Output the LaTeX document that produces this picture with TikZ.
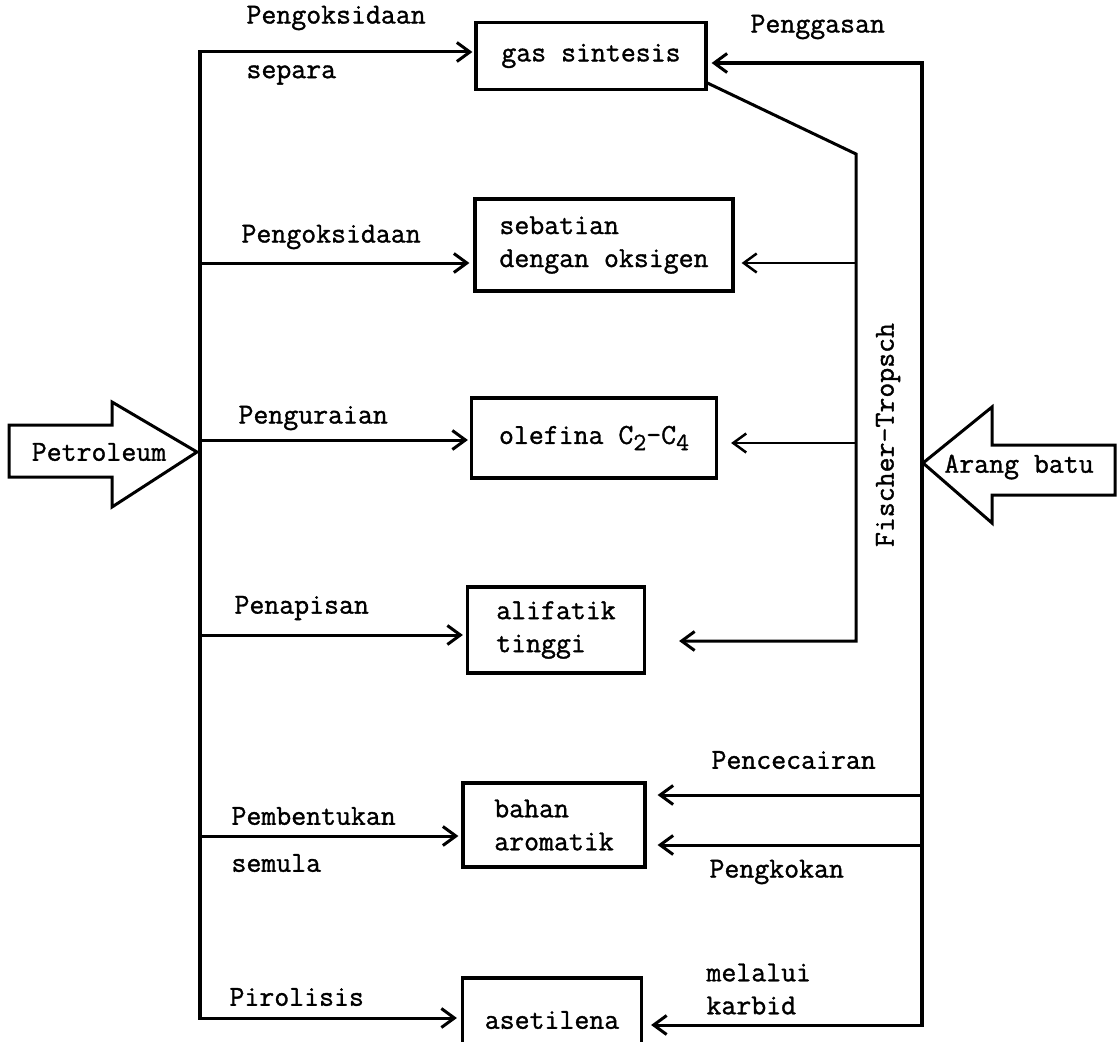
\documentclass[tikz,border=0pt]{standalone}
\usepackage{fontspec}
\usepackage{tikz}
\usetikzlibrary{arrows.meta}

\newfontfamily\scanfont{Latin Modern Mono}[FakeBold=1.2]
\newcommand{\lowdigit}[1]{\raisebox{-0.5ex}{\fontsize{25}{25}\selectfont #1}}

\begin{document}
\begin{tikzpicture}[
x=1pt, y=-1pt,
line width=3pt,
every node/.style = {font=\scanfont\fontsize{29}{33}\selectfont},
product/.style = {draw, line width=3.2pt, inner sep=0pt, align=left},
route label/.style = {anchor=west, inner sep=0pt, align=left},
flow/.style = {-{Straight Barb[length=13pt,width=19pt]}, line width=3pt},
thin flow/.style = {flow, line width=2.5pt}
]
\clip (0,0) rectangle (1118,1041);

\node (gas)   at (591, 56)   [product, minimum width=230pt, minimum height=67pt] {gas sintesis};
\node (seb)   at (604, 245)  [product, minimum width=258pt, minimum height=92pt] {sebatian\\dengan oksigen};
\node (olef)  at (594, 438)  [product, minimum width=245pt, minimum height=80pt] {olefina C\lowdigit{2}-C\lowdigit{4}};
\node (alif)  at (556, 630)  [product, minimum width=177pt, minimum height=86pt] {alifatik\\tinggi};
\node (bahan) at (554, 825)  [product, minimum width=182pt, minimum height=84pt] {bahan\\aromatik};
\node (aset)  at (552, 1020) [product, minimum width=179pt, minimum height=84pt] {asetilena};

\node (petro) at (99, 452)   {Petroleum};
\node (arang) at (1019, 467) {Arang batu};
\node (ft label) at (888, 435) [rotate=90] {Fischer-Tropsch};

\node (pox1)   at (245, 18)  [route label] {Pengoksidaan};
\node (separa) at (245, 75)  [route label] {separa};
\node (pox2)   at (240, 237) [route label] {Pengoksidaan};
\node (urai)   at (237, 418) [route label] {Penguraian};
\node (tapis)  at (233, 608) [route label] {Penapisan};
\node (bentuk) at (230, 816) [route label] {Pembentukan};
\node (semula) at (230, 863) [route label] {semula};
\node (piro)   at (228, 997) [route label] {Pirolisis};
\node (gasan)  at (749, 27)  [route label] {Penggasan};
\node (cecair) at (710, 760) [route label] {Pencecairan};
\node (kokan)  at (708, 872) [route label] {Pengkokan};
\node (karbid) at (705, 989) [route label] {melalui\\karbid};

\draw (9,425) -- (112,425) -- (112,402) -- (197,452) -- (112,507) -- (112,477) -- (9,477) -- cycle;
\draw (1115,445) -- (992,445) -- (992,407) -- (923,463) -- (992,523) -- (992,495) -- (1115,495) -- cycle;

\coordinate (l1) at (200, 52);
\coordinate (l2) at (200, 263);
\coordinate (l3) at (200, 440);
\coordinate (l4) at (200, 635);
\coordinate (l5) at (200, 836);
\coordinate (l6) at (200, 1018);

\coordinate (r0) at (922, 63);
\coordinate (r5) at (922, 795);
\coordinate (r6) at (922, 845);
\coordinate (r7) at (922, 1025);

\coordinate (ft0) at (856, 154);
\coordinate (ft1) at (856, 263);
\coordinate (ft2) at (856, 443);
\coordinate (ft3) at (856, 641);

\draw[line width=3.2pt, line cap=rect] (l1) -- (l6);
\draw[line width=4pt, line cap=rect] (r0) -- (r7);

\draw[flow, shorten >=2pt] (l1) -- (l1 -| gas.west);
\draw[flow, shorten >=4pt] (l2) -- (l2 -| seb.west);
\draw[flow, shorten >=2pt] (l3) -- (l3 -| olef.west);
\draw[flow, shorten >=3pt] (l4) -- (l4 -| alif.west);
\draw[flow, shorten >=3pt] (l5) -- (l5 -| bahan.west);
\draw[flow, shorten >=4pt] (l6) -- (l6 -| aset.west);

\draw[flow, shorten >=4pt] (r0) -- (r0 -| gas.east);
\draw[flow, shorten >=11pt] (r5) -- (r5 -| bahan.east);
\draw[flow, shorten >=11pt] (r6) -- (r6 -| bahan.east);
\draw[flow, shorten >=8pt] (r7) -- (r7 -| aset.east);

\draw[flow, shorten >=33pt] ([yshift=8pt]gas.south east) -- (ft0) -- (ft3) -- (ft3 -| alif.east);
\draw[thin flow, shorten >=7pt] (ft1) -- (ft1 -| seb.east);
\draw[thin flow, shorten >=13pt] (ft2) -- (ft2 -| olef.east);
\end{tikzpicture}
\end{document}
